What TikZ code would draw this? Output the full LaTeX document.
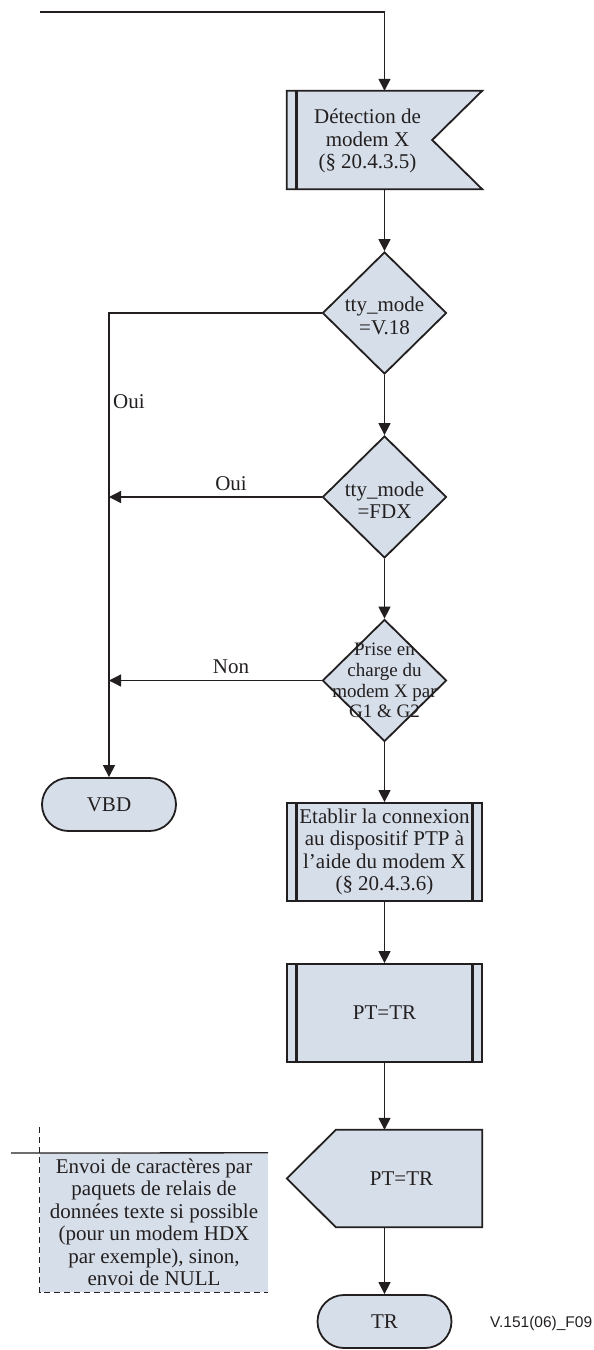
\documentclass[tikz,border=0pt]{standalone}
\usepackage{fontspec}
\setmainfont{Liberation Serif}
\newfontfamily\tagfont{Liberation Sans}
\usetikzlibrary{shapes.geometric,arrows.meta,backgrounds}
\definecolor{boxfill}{HTML}{D6DFE9}
\definecolor{ink}{HTML}{231F20}
\begin{document}
\begin{tikzpicture}[x=1pt,y=-1pt,
  every node/.style={font=\fontsize{21}{22.5}\selectfont, text=ink},
  outline/.style={draw=ink, line width=1.8pt, fill=boxfill},
  wire/.style={draw=ink, line width=1.3pt},
  flow/.style={wire, -{Triangle[length=12pt,width=12pt]}},
  bar/.style={draw=ink, line width=3pt},
  bodybox/.style={minimum width=195pt, minimum height=98pt, inner sep=0pt, align=center},
  procbox/.style={outline, rectangle, bodybox},
  decision/.style={outline, diamond, minimum width=124pt, minimum height=122pt, inner sep=0pt},
  terminal/.style={outline, rectangle, rounded corners=26.5pt, minimum width=134pt, minimum height=53pt, inner sep=0pt},
  lbl/.style={inner sep=0pt}
]
\useasboundingbox (0,0) rectangle (594,1350);

% ---- nodes ----
\node[bodybox, label={[align=center, xshift=-17pt, yshift=-1pt]center:Détection de\\modem X\\(§ 20.4.3.5)}] (det) at (384.5,140) {};
\begin{scope}[on background layer]
  \path[outline] (det.north west) -- (det.north east) -- ([xshift=-50pt]det.east)
    -- (det.south east) -- (det.south west) -- cycle;
\end{scope}
\draw[bar] ([xshift=10pt]det.north west) -- ([xshift=10pt]det.south west);

\node[decision, label={[align=center, yshift=-3pt]center:tty\_mode\\=V.18}] (d1) at (384.5,313) {};
\node[decision, label={[align=center, yshift=-3pt]center:tty\_mode\\=FDX}] (d2) at (384.5,497) {};
\node[decision, label={[align=center, font=\fontsize{19}{20.7}\selectfont]center:Prise en\\charge du\\modem X par\\G1 \& G2}] (d3) at (384.5,680.5) {};

\node[terminal] (vbd) at (109,804.5) {VBD};

\node[procbox] (est) at (384.5,852)
  {Etablir la connexion\\au dispositif PTP à\\l’aide du modem X\\(§ 20.4.3.6)};
\draw[bar] ([xshift=10pt]est.north west) -- ([xshift=10pt]est.south west);
\draw[bar] ([xshift=-10pt]est.north east) -- ([xshift=-10pt]est.south east);

\node[procbox] (pt1) at (384.5,1013) {PT=TR};
\draw[bar] ([xshift=10pt]pt1.north west) -- ([xshift=10pt]pt1.south west);
\draw[bar] ([xshift=-10pt]pt1.north east) -- ([xshift=-10pt]pt1.south east);

\node[bodybox, minimum height=97pt, label={[xshift=17pt]center:PT=TR}] (pt2) at (384.5,1178.5) {};
\begin{scope}[on background layer]
  \path[outline] ([xshift=49pt]pt2.north west) -- (pt2.north east) -- (pt2.south east)
    -- ([xshift=49pt]pt2.south west) -- (pt2.west) -- cycle;
\end{scope}

\node[terminal] (tr) at (384.5,1321.5) {TR};

\node[fill=boxfill, minimum width=228pt, minimum height=139pt, inner sep=0pt, align=center] (cmt) at (154,1222.5)
  {Envoi de caractères par\\paquets de relais de\\données texte si possible\\(pour un modem HDX\\par exemple), sinon,\\envoi de NULL};
\coordinate (cmtlead) at (11,1153);
\draw[wire] (cmtlead) -- (cmt.north east);
\draw[wire, dash pattern=on 6pt off 4pt] ([yshift=26pt]cmt.north west) -- (cmt.south west) -- (cmt.south east);

\node[font=\tagfont\fontsize{15.5}{17}\selectfont, anchor=west, inner sep=0pt] (tag) at (490,1323) {V.151(06)\_F09};

% ---- connectors ----
\coordinate (entry) at (40,12);
\draw[flow] (entry) -| (det.north);
\draw[flow] (det.south) -- (d1.north);
\draw[flow] (d1.west) -| (vbd.north);
\node[lbl, anchor=west] (oui1) at (113,402) {Oui};
\draw[flow] (d1.south) -- (d2.north);
\coordinate (j2) at (vbd.north |- d2.west);
\draw[flow] (d2.west) -- (j2);
\node[lbl] (oui2) at (231,484) {Oui};
\draw[flow] (d2.south) -- (d3.north);
\coordinate (j3) at (vbd.north |- d3.west);
\draw[flow] (d3.west) -- (j3);
\node[lbl] (non) at (231,667) {Non};
\draw[flow] (d3.south) -- (est.north);
\draw[flow] (est.south) -- (pt1.north);
\draw[flow] (pt1.south) -- (pt2.north);
\draw[flow] (pt2.south) -- (tr.north);
\end{tikzpicture}
\end{document}
